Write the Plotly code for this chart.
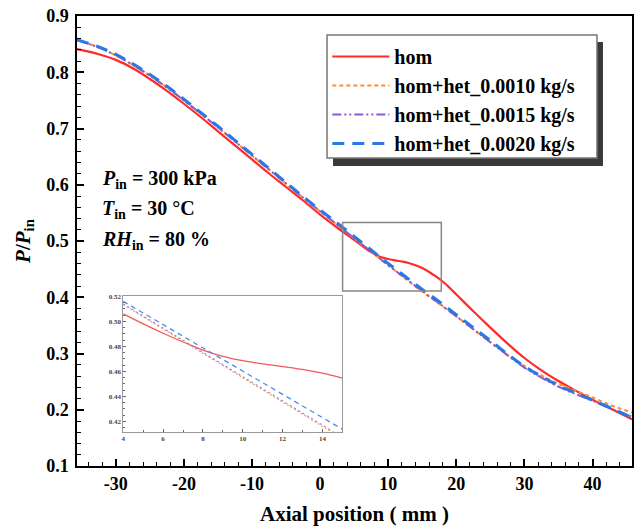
import plotly.graph_objects as go

# ---------------- data ----------------
x_het = [-35.7, -32.5, -30, -27.5, -25, -22.5, -20, -17.5, -15, -12.5, -10, -7.5, -5, -2.5,
         0, 2.5, 5, 7.5, 10, 12.5, 15, 17.5, 20, 22.5, 25, 27.5, 30, 32.5, 35, 37.5, 40, 42.5, 45.8]
het_0020 = [0.858, 0.845, 0.832, 0.815, 0.796, 0.775, 0.752, 0.728, 0.704, 0.679, 0.654, 0.629, 0.604, 0.579,
            0.555, 0.532, 0.508, 0.484, 0.460, 0.437, 0.414, 0.392, 0.369, 0.346, 0.323, 0.299, 0.277, 0.259,
            0.243, 0.230, 0.217, 0.204, 0.186]
het_0010 = [0.858, 0.844, 0.830, 0.813, 0.794, 0.773, 0.750, 0.726, 0.702, 0.677, 0.652, 0.627, 0.602, 0.577,
            0.553, 0.529, 0.505, 0.481, 0.457, 0.433, 0.410, 0.388, 0.366, 0.343, 0.320, 0.298, 0.278, 0.261,
            0.246, 0.234, 0.222, 0.209, 0.195]
het_0015 = [0.857, 0.844, 0.830, 0.813, 0.794, 0.773, 0.750, 0.726, 0.702, 0.677, 0.652, 0.627, 0.602, 0.577,
            0.553, 0.529, 0.505, 0.481, 0.457, 0.434, 0.411, 0.389, 0.366, 0.343, 0.320, 0.297, 0.275, 0.257,
            0.241, 0.228, 0.216, 0.203, 0.188]

x_hom = [-35.7, -32.5, -30, -27.5, -25, -22.5, -20, -17.5, -15, -12.5, -10, -7.5, -5, -2.5, 0, 2.5, 5,
         6, 7, 8, 9, 10, 11, 12, 13, 14, 15, 16, 17, 18, 19, 20, 22.5, 25, 27.5, 30, 32.5, 35, 37.5, 40, 42.5, 45.8]
hom = [0.841, 0.832, 0.822, 0.807, 0.788, 0.767, 0.744, 0.720, 0.695, 0.670, 0.645, 0.620, 0.596, 0.572,
       0.547, 0.524, 0.502, 0.493, 0.484, 0.477, 0.471, 0.468, 0.4655, 0.4635, 0.461, 0.457, 0.452, 0.445,
       0.437, 0.428, 0.417, 0.405, 0.375, 0.346, 0.318, 0.292, 0.270, 0.251, 0.234, 0.218, 0.203, 0.183]

# inset (zoomed window) values
x_ins = [4, 5, 6, 7, 8, 9, 10, 11, 12, 13, 14, 15]
ins_hom = [0.506, 0.498, 0.4905, 0.4835, 0.4770, 0.4720, 0.4685, 0.4660, 0.4638, 0.4615, 0.4585, 0.4545]
ins_0010 = [0.5134, 0.5037, 0.4939, 0.4842, 0.4744, 0.4647, 0.4549, 0.4452, 0.4354, 0.4257, 0.4159, 0.4062]
ins_0015 = [0.5140, 0.5043, 0.4946, 0.4849, 0.4752, 0.4655, 0.4558, 0.4461, 0.4364, 0.4267, 0.4170, 0.4073]
ins_0020 = [0.5160, 0.5067, 0.4974, 0.4881, 0.4788, 0.4695, 0.4602, 0.4509, 0.4416, 0.4323, 0.4230, 0.4137]

x_tickvals = [-30, -20, -10, 0, 10, 20, 30, 40]
x_ticktext = ["-30", "-20", "-10", "0", "10", "20", "30", "40"]

names = ["hom", "hom+het_0.0010 kg/s", "hom+het_0.0015 kg/s", "hom+het_0.0020 kg/s"]
annot_lines = ["<i>P</i><sub>in</sub> = 300 kPa", "<i>T</i><sub>in</sub> = 30 °C", "<i>RH</i><sub>in</sub> = 80 %"]

# ---------------- styling ----------------
SERIF = "Liberation Serif, Times New Roman, serif"
RED, ORANGE, PURPLE, BLUE = "#ff2a2a", "#ff8c2e", "#8c5ccc", "#2a78e4"

fig = go.Figure()
fig.add_trace(go.Scatter(x=x_hom, y=hom, name=names[0], mode="lines", line=dict(color=RED, width=2.2, shape="spline")))
fig.add_trace(go.Scatter(x=x_het, y=het_0010, name=names[1], mode="lines",
                         line=dict(color=ORANGE, width=2, dash="4px,3px", shape="spline")))
fig.add_trace(go.Scatter(x=x_het, y=het_0015, name=names[2], mode="lines",
                         line=dict(color=PURPLE, width=2, dash="9px,3px,2px,3px,2px,3px", shape="spline")))
fig.add_trace(go.Scatter(x=x_het, y=het_0020, name=names[3], mode="lines",
                         line=dict(color=BLUE, width=3, dash="12px,8px", shape="spline")))

# inset traces
fig.add_trace(go.Scatter(x=x_ins, y=ins_hom, xaxis="x2", yaxis="y2", mode="lines", showlegend=False,
                         line=dict(color="#f05a5a", width=1.3, shape="spline")))
fig.add_trace(go.Scatter(x=x_ins, y=ins_0010, xaxis="x2", yaxis="y2", mode="lines", showlegend=False,
                         line=dict(color="#f0a060", width=1.2, dash="2px,2px")))
fig.add_trace(go.Scatter(x=x_ins, y=ins_0015, xaxis="x2", yaxis="y2", mode="lines", showlegend=False,
                         line=dict(color="#a080d0", width=1.2, dash="2px,3px")))
fig.add_trace(go.Scatter(x=x_ins, y=ins_0020, xaxis="x2", yaxis="y2", mode="lines", showlegend=False,
                         line=dict(color="#4a8ee6", width=1.3, dash="5px,4px")))

tickfont = dict(family=SERIF, size=18, color="black", weight="bold")
fig.update_layout(
    width=635, height=527,
    margin=dict(l=77, r=3, t=16, b=61, autoexpand=False),
    paper_bgcolor="white", plot_bgcolor="white",
    font=dict(family=SERIF, color="black"),
    xaxis=dict(range=[-35.7, 45.8], tickmode="array", tickvals=x_tickvals, ticktext=x_ticktext,
               ticks="inside", ticklen=7, tickwidth=1.5, automargin=False, ticklabelstandoff=1,
               tickcolor="black", showline=True, linecolor="black", linewidth=1.5, mirror=True,
               showgrid=False, zeroline=False, tickfont=tickfont,
               minor=dict(tickmode="linear", tick0=0, dtick=2, ticks="inside", ticklen=4, tickwidth=1.2,
                          tickcolor="black", showgrid=False),
               title=dict(text="<b>Axial position ( mm )</b>", font=dict(family=SERIF, size=21), standoff=13)),
    yaxis=dict(range=[0.1, 0.9], tick0=0.1, dtick=0.1, tickformat=".1f", ticks="inside", ticklen=7,
               tickwidth=1.5, tickcolor="black", showline=True, linecolor="black", linewidth=1.5, mirror=True,
               showgrid=False, zeroline=False, tickfont=tickfont, automargin=False, ticklabelstandoff=3,
               minor=dict(dtick=0.02, ticks="inside", ticklen=4, tickwidth=1.2, tickcolor="black", showgrid=False),
               title=dict(text="<b><i>P</i>/<i>P</i><sub>in</sub></b>", font=dict(family=SERIF, size=21), standoff=10)),
    xaxis2=dict(domain=[0.0834, 0.478], anchor="y2", range=[4, 15], tick0=4, dtick=2, ticks="inside",
                ticklen=3, tickwidth=1, tickcolor="#666", showline=True, linecolor="#999", linewidth=1,
                mirror=True, showgrid=False, zeroline=False, automargin=False,
                tickfont=dict(family=SERIF, size=7, color="#444", weight="bold"),
                minor=dict(dtick=1, ticks="inside", ticklen=2, tickcolor="#666", showgrid=False)),
    yaxis2=dict(domain=[0.0766, 0.3769], anchor="x2", range=[0.4118, 0.52], tick0=0.42, dtick=0.02,
                tickformat=".2f", ticks="inside", ticklen=3, tickwidth=1, tickcolor="#666", showline=True,
                linecolor="#999", linewidth=1, mirror=True, showgrid=False, zeroline=False, automargin=False,
                tickfont=dict(family=SERIF, size=7, color="#444", weight="bold"),
                minor=dict(dtick=0.005, ticks="inside", ticklen=2, tickcolor="#666", showgrid=False)),
    legend=dict(x=0.451, y=0.9533, xanchor="left", yanchor="top", bgcolor="rgba(0,0,0,0)",
                borderwidth=0, font=dict(family=SERIF, size=20, color="black", weight="bold"),
                itemwidth=57, tracegroupgap=0),
    showlegend=True,
)

# zoom rectangle on main plot
fig.add_shape(type="rect", xref="x", yref="y", x0=3.3, x1=17.8, y0=0.411, y1=0.533,
              line=dict(color="#888", width=1.5))
# legend drop shadow and frame
fig.add_shape(type="rect", xref="paper", yref="paper", x0=0.4613, x1=0.9477, y0=0.6667, y1=0.9422,
              line=dict(width=0), fillcolor="#3a3a3a", layer="above")
fig.add_shape(type="rect", xref="paper", yref="paper", x0=0.4505, x1=0.9369, y0=0.6844, y1=0.9578,
              line=dict(width=1.5, color="#777"), fillcolor="white", layer="above")

for i, txt in enumerate(annot_lines):
    fig.add_annotation(x=0.042, y=0.636 - i * 0.067, xref="paper", yref="paper", xanchor="left",
                       yanchor="middle", showarrow=False, text="<b>" + txt + "</b>",
                       font=dict(family=SERIF, size=20, color="black"))

fig.write_html("out.html", config={"displayModeBar": False},
               post_script="document.body.style.margin='0px';document.body.style.overflow='hidden';")
